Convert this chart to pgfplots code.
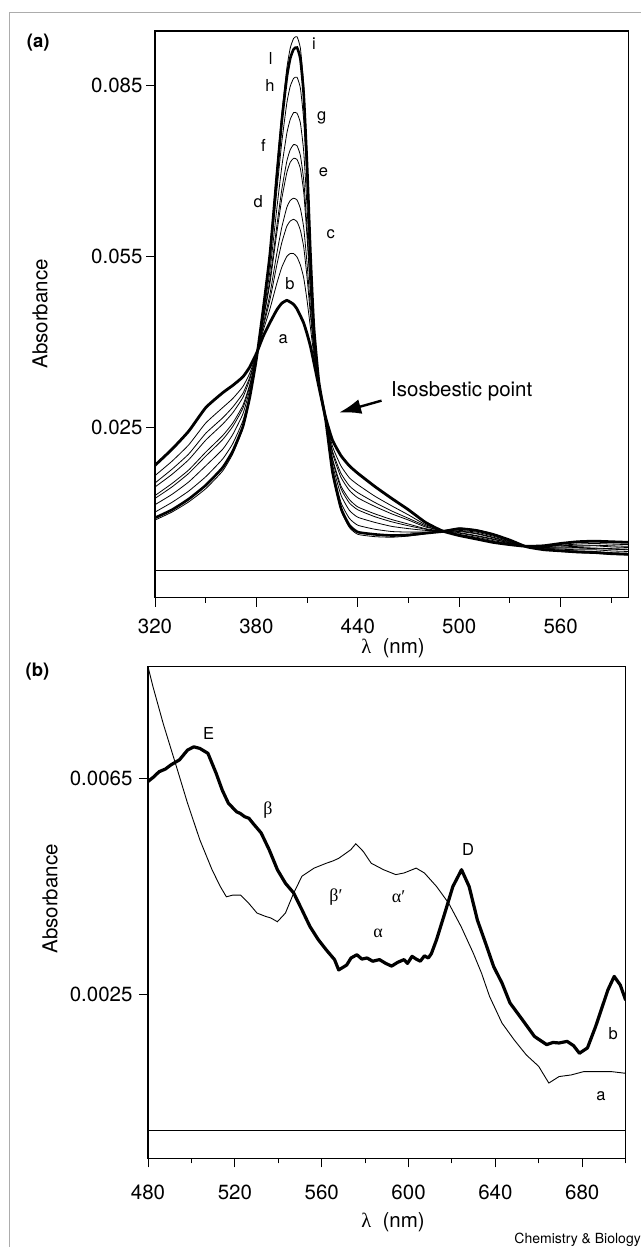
\documentclass[border=0pt]{standalone}
\usepackage{pgfplots}
\pgfplotsset{compat=1.18}
\usepackage{pgfplotstable}
\usepackage{fontspec}
\setmainfont{TeX Gyre Heros}
\newfontfamily\grk{Liberation Serif}
\usetikzlibrary{arrows.meta}

\pgfplotstableread{
x a b c d e f g h l i
320 .0184 .0166 .0153 .0146 .0131 .0126 .0115 .0102 .0092 .0088
330 .0212 .0191 .0177 .0168 .0152 .0146 .0133 .0119 .0106 .0102
340 .0244 .0220 .0204 .0194 .0176 .0170 .0155 .0139 .0125 .0120
350 .0285 .0258 .0240 .0228 .0207 .0200 .0183 .0164 .0149 .0143
360 .0311 .0285 .0267 .0256 .0236 .0229 .0212 .0195 .0180 .0174
366 .0324 .0301 .0286 .0276 .0258 .0252 .0238 .0222 .0209 .0204
372 .0339 .0322 .0310 .0303 .0289 .0284 .0274 .0262 .0252 .0248
376 .0356 .0345 .0338 .0334 .0325 .0322 .0316 .0308 .0302 .0300
380 .0380 .0378 .0377 .0376 .0375 .0374 .0373 .0372 .0370 .0370
384 .0410 .0420 .0426 .0430 .0438 .0440 .0446 .0453 .0458 .0460
388 .0434 .0458 .0474 .0484 .0503 .0510 .0525 .0541 .0555 .0560
392 .0456 .0502 .0534 .0554 .0590 .0602 .0632 .0663 .0690 .0700
395 .0468 .0531 .0574 .0601 .0651 .0667 .0707 .0750 .0787 .0800
398 .0473 .0550 .0603 .0636 .0697 .0717 .0766 .0819 .0864 .0880
400 .0470 .0555 .0612 .0648 .0715 .0737 .0790 .0848 .0897 .0915
402 .0466 .0555 .0615 .0652 .0722 .0746 .0802 .0862 .0913 .0932
404 .0458 .0549 .0611 .0649 .0720 .0744 .0801 .0864 .0916 .0935
406 .0446 .0535 .0596 .0634 .0704 .0727 .0784 .0845 .0896 .0915
408 .0433 .0512 .0566 .0600 .0662 .0683 .0733 .0788 .0833 .0850
410 .0414 .0472 .0512 .0536 .0582 .0598 .0634 .0674 .0708 .0720
412 .0392 .0424 .0446 .0459 .0484 .0493 .0513 .0535 .0553 .0560
414 .0364 .0377 .0385 .0390 .0400 .0404 .0412 .0420 .0427 .0430
417 .0321 .0323 .0324 .0325 .0326 .0326 .0327 .0329 .0330 .0330
421 .0267 .0266 .0265 .0265 .0264 .0264 .0263 .0263 .0262 .0262
425 .0228 .0217 .0209 .0205 .0196 .0193 .0186 .0179 .0172 .0170
430 .0201 .0183 .0170 .0163 .0148 .0143 .0132 .0119 .0109 .0105
435 .0183 .0162 .0148 .0140 .0124 .0118 .0105 .0091 .0079 .0075
440 .0170 .0150 .0136 .0127 .0111 .0106 .0093 .0079 .0067 .0063
450 .0147 .0130 .0119 .0112 .0099 .0094 .0084 .0072 .0063 .0059
460 .0126 .0113 .0104 .0099 .0089 .0085 .0077 .0068 .0061 .0058
470 .0106 .0097 .0091 .0088 .0081 .0078 .0073 .0067 .0062 .0060
480 .0084 .0080 .0078 .0076 .0073 .0072 .0070 .0067 .0065 .0064
490 .0069 .0070 .0068 .0070 .0069 .0068 .0070 .0069 .0068 .0069
500 .0061 .0063 .0065 .0066 .0068 .0069 .0070 .0072 .0073 .0074
510 .0055 .0058 .0060 .0061 .0064 .0065 .0067 .0069 .0070 .0071
520 .0049 .0052 .0054 .0055 .0057 .0058 .0060 .0062 .0063 .0064
530 .0045 .0047 .0048 .0048 .0049 .0050 .0051 .0052 .0053 .0053
540 .0042 .0042 .0041 .0042 .0041 .0042 .0041 .0042 .0041 .0041
550 .0043 .0042 .0041 .0040 .0039 .0039 .0038 .0037 .0036 .0036
560 .0047 .0044 .0043 .0041 .0039 .0039 .0037 .0035 .0034 .0033
570 .0050 .0046 .0044 .0042 .0040 .0039 .0036 .0034 .0032 .0031
580 .0051 .0047 .0044 .0043 .0039 .0038 .0036 .0033 .0031 .0030
590 .0050 .0046 .0043 .0041 .0038 .0037 .0034 .0031 .0029 .0028
600 .0049 .0045 .0042 .0040 .0037 .0036 .0033 .0030 .0028 .0027
}\specA

\pgfplotstableread{
x y
480 .00856
482.3 .00819
487.0 .00751
492.6 .00678
498.2 .00604
503.9 .00536
509.5 .00481
513.3 .00450
516.1 .00431
518.9 .00434
522.7 .00434
526.4 .00419
530.2 .00401
534.0 .00395
536.5 .00392
539.6 .00385
543.3 .00401
547.1 .00438
550.9 .00469
556.5 .00484
562.1 .00493
565.0 .00497
567.8 .00502
573.4 .00518
575.7 .00529
579.1 .00515
582.8 .00493
588.5 .00481
594.1 .00472
597.9 .00475
603.5 .00484
607.3 .00475
612.9 .00450
618.5 .00419
624.2 .00376
629.8 .00327
633.6 .00290
637.3 .00247
643.0 .00198
648.6 .00167
654.2 .00139
659.9 .00118
664.6 .00087
669.3 .00099
674.9 .00102
680.5 .00108
686.2 .00108
693.7 .00108
700 .00105
}\specBa

\pgfplotstableread{
x y
480 .00644
482.5 .00652
485.1 .00662
488.0 .00667
490.7 .00675
494.5 .00684
498.2 .00702
501.1 .00708
503.9 .00705
507.6 .00696
511.4 .00659
514.2 .00628
517.0 .00604
520.8 .00588
522.5 .00585
524.5 .00579
526.5 .00576
528.3 .00567
532.1 .00549
535.8 .00518
539.6 .00481
543.3 .00456
547.1 .00438
550.9 .00407
554.6 .00376
558.4 .00352
562.1 .00333
565.9 .00315
567.8 .00296
569.5 .00300
571.5 .00305
573.5 .00318
576.2 .00324
578.5 .00316
580.9 .00318
583.5 .00312
586.6 .00315
589.5 .00308
592.2 .00303
595.0 .00310
597.9 .00315
599.5 .00308
601.6 .00321
603.5 .00316
605.4 .00312
607.3 .00322
609.1 .00318
610.5 .00326
612.9 .00352
616.7 .00401
620.4 .00450
624.4 .00481
627.9 .00450
631.7 .00388
635.5 .00345
639.2 .00302
643.0 .00272
646.7 .00235
652.4 .00204
658.0 .00173
663.6 .00158
666.5 .00162
669.3 .00161
673.0 .00164
676.0 .00156
678.7 .00142
682.4 .00152
686.2 .00192
691.8 .00259
694.7 .00284
697.5 .00268
700 .00240
}\specBb

\newcommand\lbl{\fontsize{16.5}{19}\selectfont}
\newcommand\bigf{\fontsize{20.5}{24}\selectfont}

\pgfplotsset{
  common/.style={
    scale only axis,
    axis line style={line width=1.1pt},
    tick align=outside,
    xtick pos=left, ytick pos=left,
    major tick length=9pt, minor tick length=5pt,
    tick style={black, line width=1pt},
    tick label style={font=\bigf},
    scaled y ticks=false,
    /pgf/number format/assume math mode=true,
    clip=true,
  }
}

\begin{document}
\begin{tikzpicture}[x=1pt,y=1pt]
\useasboundingbox (0,0) rectangle (641,-1247);
\draw[gray!65, line width=1.2pt] (9.5,-1247) -- (9.5,-12.7) -- (641,-12.7);

% ---------------- panel (a)
\begin{axis}[common,
  at={(155pt,-597.7pt)}, anchor=south west,
  width=473.3pt, height=566.7pt,
  xmin=320, xmax=600, ymin=-0.0048, ymax=0.0945,
  xtick={320,380,440,500,560}, minor xtick={350,410,470,530,590},
  ytick={0.025,0.055,0.085},
  xticklabel style={yshift=-9pt},
  yticklabel style={/pgf/number format/.cd, fixed, precision=3},
]
\addplot[black, line width=0.9pt] coordinates {(320,0) (600,0)};
\foreach \c in {b,c,d,e,f,g,h,i}{
  \addplot[black, line width=0.8pt, smooth, tension=0.3] table[x=x,y=\c]{\specA};
}
\addplot[black, line width=2.6pt, smooth, tension=0.3] table[x=x,y=l]{\specA};
\addplot[black, line width=2.8pt, smooth, tension=0.3] table[x=x,y=a]{\specA};
\node[font=\lbl] at (axis cs:414,0.0923) {i};
\node[font=\lbl] at (axis cs:388.4,0.0897) {l};
\node[font=\lbl] at (axis cs:388.0,0.0850) {h};
\node[font=\lbl] at (axis cs:418.6,0.0792) {g};
\node[font=\lbl] at (axis cs:384.1,0.0744) {f};
\node[font=\lbl] at (axis cs:419.6,0.0698) {e};
\node[font=\lbl] at (axis cs:381.1,0.0646) {d};
\node[font=\lbl] at (axis cs:423.9,0.0589) {c};
\node[font=\lbl] at (axis cs:399.9,0.0503) {b};
\node[font=\lbl] at (axis cs:395.9,0.0405) {a};
\draw[black, line width=2.4pt, -{Latex[length=22pt,width=15pt]}] (axis cs:454.0,0.02973) -- (axis cs:428.9,0.02764);
\node[font=\bigf, anchor=base west, inner sep=0pt] at (axis cs:459.6,0.0304) {Isosbestic point};
\end{axis}

% ---------------- panel (b)
\begin{axis}[common,
  at={(148pt,-1158.3pt)}, anchor=south west,
  width=477.7pt, height=491.6pt,
  xmin=480, xmax=700, ymin=-0.00052, ymax=0.00856,
  xtick={480,520,560,600,640,680}, minor xtick={500,540,580,620,660,700},
  ytick={0.0025,0.0065},
  xticklabel style={yshift=-14pt},
  yticklabel style={xshift=-3pt, /pgf/number format/.cd, fixed, precision=4},
]
\addplot[black, line width=0.9pt] coordinates {(480,0) (700,0)};
\addplot[black, line width=0.9pt] table[x=x,y=y]{\specBa};
\addplot[black, line width=3.2pt, line join=round] table[x=x,y=y]{\specBb};
\node[font=\lbl] at (axis cs:507.9,0.00733) {E};
\node[font=\fontsize{18}{20}\selectfont\grk] at (axis cs:535.2,0.00592) {β};
\node[font=\fontsize{18}{20}\selectfont\grk] at (axis cs:566.6,0.00431) {β′};
\node[font=\fontsize{18}{20}\selectfont\grk] at (axis cs:595.4,0.00431) {α′};
\node[font=\fontsize{18}{20}\selectfont\grk] at (axis cs:586.0,0.00364) {α};
\node[font=\lbl] at (axis cs:627.4,0.00518) {D};
\node[font=\lbl] at (axis cs:694.3,0.00179) {b};
\node[font=\lbl] at (axis cs:688.6,0.00062) {a};
\end{axis}

% ---------------- labels
\node[font=\fontsize{18.5}{21}\selectfont\bfseries] at (38.3,-42.5) {(a)};
\node[font=\fontsize{18.5}{21}\selectfont\bfseries] at (37.5,-672) {(b)};
\node[font=\bigf, rotate=90] at (40,-314) {Absorbance};
\node[font=\bigf, rotate=90] at (50,-899) {Absorbance};
\node[font=\bigf] at (393,-648) {{\grk λ}\ \ (nm)};
\node[font=\bigf] at (393,-1221.7) {{\grk λ}\ \ (nm)};
\node[font=\fontsize{14}{16}\selectfont, anchor=base east, inner sep=0pt] at (641,-1243) {Chemistry \& Biology};
\end{tikzpicture}
\end{document}
